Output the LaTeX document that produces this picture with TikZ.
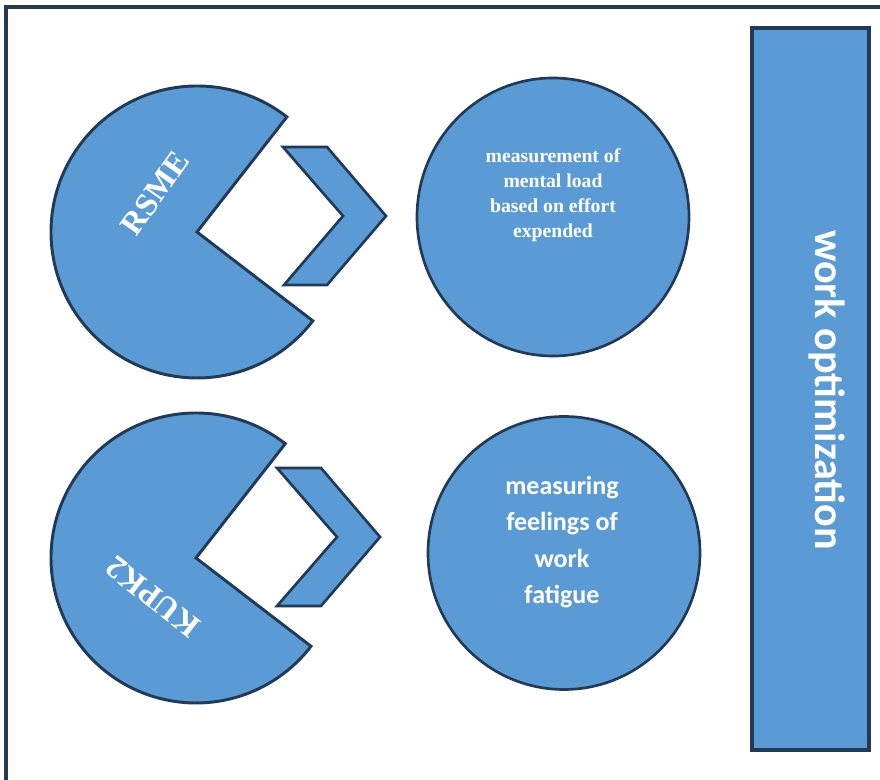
\documentclass[tikz,border=0pt]{standalone}
\usepackage{fontspec}
\setmainfont{Liberation Serif}
\newfontfamily\calfont{Carlito}
\usetikzlibrary{calc,positioning,shapes.geometric}
\definecolor{boxblue}{RGB}{91,155,213}
\definecolor{edgeblue}{RGB}{33,58,87}
\tikzset{
    pacman/.style={
    draw=edgeblue,fill=boxblue,line width=2.1pt,line join=miter
    },
    chevron/.style={
    draw=edgeblue,fill=boxblue,line width=1.9pt,line join=miter
    },
    bubble/.style={
    ellipse,draw=edgeblue,fill=boxblue,line width=1.9pt,inner sep=0pt
    },
    pactext/.style={
    text=white,font=\bfseries\fontsize{23}{26}\selectfont
    },
    bubbletext/.style={
    text=white,align=center
    },
    sidebar/.style={
    rectangle,draw=edgeblue,fill=boxblue,line width=2.2pt,inner sep=0pt
    },
}
\begin{document}
\begin{tikzpicture}[x=0.25mm, y=0.25mm]
   \useasboundingbox (0,0) rectangle (880,780);
   \draw[edgeblue,line width=2.2pt] (6,0) -- (6,773) -- (880,773);

   \draw[pacman] (197,548) -- ++(52:146) arc[start angle=52, end angle=322.5, radius=146] -- cycle;
   \draw[chevron] (283,633) -- (327,633) -- (386,564) -- (327,495) -- (284,495) -- (343,564) -- cycle;
   \draw[pacman] (196,222) -- ++(52:145) arc[start angle=52, end angle=322.5, radius=145] -- cycle;
   \draw[chevron] (277,312) -- (321,312) -- (380,243) -- (321,174) -- (277,174) -- (337,243) -- cycle;

   \node[pactext,rotate=55] (rsme) at (155,587) {RSME};
   \node[pactext,rotate=142] (kupk) at (153,183) {KUPK2};

   \node[bubble,minimum width=68mm,minimum height=69.5mm] (load) at (553,563) {};
   \node[bubbletext,font=\bfseries\fontsize{14}{17.8}\selectfont] (loadtext) at (553,585)
      {measurement of\\mental load\\based on effort\\expended};

   \node[bubble,minimum width=68mm,minimum height=68.25mm] (fatigue) at (564,227) {};
   \node[bubbletext,font=\calfont\bfseries\fontsize{18.5}{26}\selectfont] (fatiguetext) at (562,238)
      {measuring\\feelings of\\work\\fatigue};

   \node[sidebar,minimum width=29.25mm,minimum height=180.5mm] (opt) at (810.5,391) {};
   \node[text=white,rotate=-90,font=\calfont\bfseries\fontsize{30}{34}\selectfont] (opttext) at (827,390) {work optimization};
\end{tikzpicture}
\end{document}
